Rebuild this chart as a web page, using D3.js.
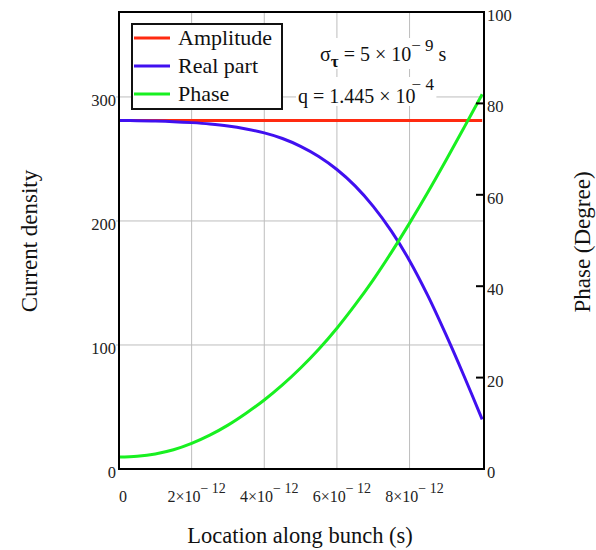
<!DOCTYPE html>
<html><head><meta charset="utf-8">
<script src="https://cdn.jsdelivr.net/npm/d3@7"></script>
<style>body{margin:0;background:#fff}svg{display:block}</style>
</head><body>
<svg id="c" width="596" height="550"></svg>
<script>
// ---- data ----
const locations = [0,0.5e-12,1e-12,1.5e-12,2e-12,2.5e-12,3e-12,3.5e-12,4e-12,4.5e-12,5e-12,5.5e-12,6e-12,6.5e-12,7e-12,7.5e-12,8e-12,8.5e-12,9e-12,9.5e-12,1e-11];
const amplitude = [281,281,281,281,281,281,281,281,281,281,281,281,281,281,281,281,281,281,281,281,281];
const realPart  = [281,280.9,280.6,280.1,279.3,278.2,276.6,274.2,271.0,266.5,260.2,252.0,241.5,228.3,211.8,191.8,168.0,140.0,108.5,75.0,40.0];
const phaseDeg  = [2.6,2.8,3.3,4.2,5.6,7.4,9.6,12.2,15.1,18.4,22.1,26.2,30.8,35.9,41.4,47.4,53.8,60.5,67.5,74.7,82.0];
const xTicks = [2e-12,4e-12,6e-12,8e-12];
const xTickMantissa = ["2","4","6","8"];
const xTickExponent = "\u2212 12";
const leftTicks = [0,100,200,300];
const rightTicks = [0,20,40,60,80,100];
const seriesNames = ["Amplitude","Real part","Phase"];
const seriesColors = ["#ff2a10","#4010f0","#18f020"];

const FONT = "'Liberation Serif','Times New Roman',serif";
const svg = d3.select("#c").style("font-family", FONT);
const L = 119, R = 484, T = 12, B = 469;

const x = d3.scaleLinear().domain([0, 1.005e-11]).range([L, R]);
const yL = d3.scaleLinear().domain([0, 368.5]).range([B, T]);
const yR = d3.scaleLinear().domain([0, 100]).range([B, T]);

// gridlines
const grid = svg.append("g").attr("stroke", "#bdbdbd").attr("stroke-width", 1);
grid.selectAll("line.v").data(xTicks).join("line")
  .attr("x1", d => x(d)).attr("x2", d => x(d)).attr("y1", T).attr("y2", B);
grid.selectAll("line.h").data(leftTicks.filter(d => d > 0)).join("line")
  .attr("x1", L - 3).attr("x2", R).attr("y1", d => yL(d)).attr("y2", d => yL(d));

// annotations with white backgrounds
function annot(xp, yp, parts) {
  const g = svg.append("g");
  const t = g.append("text").attr("x", xp).attr("y", yp).attr("font-size", 20).attr("fill", "#111");
  parts.forEach(p => {
    const ts = t.append("tspan").text(p.t);
    if (p.fs) ts.attr("font-size", p.fs);
    if (p.dy) ts.attr("dy", p.dy);
    if (p.dx) ts.attr("dx", p.dx);
    if (p.fw) ts.attr("font-weight", p.fw);
  });
  const bb = t.node().getBBox();
  g.insert("rect", "text").attr("x", bb.x - 2).attr("y", bb.y + 2).attr("width", bb.width + 4)
    .attr("height", bb.height - 4).attr("fill", "#fff");
}
annot(320, 61, [
  {t: "\u03c3"}, {t: "\u03c4", fs: 17, dy: 6, fw: "bold"}, {t: " = 5 \u00d7 10", dy: -6},
  {t: "\u2212 9", fs: 17, dy: -10}, {t: " s", dy: 10}
]);
annot(298, 103, [
  {t: "q = 1.445 \u00d7 10"}, {t: "\u2212 4", fs: 17, dy: -13, dx: -4}
]);

// series
const mk = (ys) => (vals) => d3.line().curve(d3.curveCatmullRom.alpha(0.5))
  .x((d, i) => x(locations[i])).y(d => ys(d))(vals);
const lineL = mk(yL), lineR = mk(yR);
const curves = svg.append("g").attr("fill", "none").attr("stroke-width", 3);
curves.append("path").attr("d", lineL(amplitude)).attr("stroke", seriesColors[0]);
curves.append("path").attr("d", lineL(realPart)).attr("stroke", seriesColors[1]);
curves.append("path").attr("d", lineR(phaseDeg)).attr("stroke", seriesColors[2]);

// frame
svg.append("rect").attr("x", L).attr("y", T).attr("width", R - L).attr("height", B - T)
  .attr("fill", "none").attr("stroke", "#000").attr("stroke-width", 2);

// right axis ticks (inward)
svg.append("g").selectAll("line").data(rightTicks.filter(d => d > 0 && d < 100)).join("line")
  .attr("x1", R - 8).attr("x2", R).attr("y1", d => yR(d)).attr("y2", d => yR(d))
  .attr("stroke", "#000").attr("stroke-width", 2);

// tick labels
svg.append("g").selectAll("text").data(leftTicks).join("text")
  .attr("x", 116).attr("y", d => yL(d) + 9).attr("text-anchor", "end")
  .attr("font-size", 16.5).attr("fill", "#222").text(d => d);
svg.append("g").selectAll("text").data(rightTicks).join("text")
  .attr("x", 487).attr("y", d => yR(d) + 9)
  .attr("font-size", 16.5).attr("fill", "#222").text(d => d);

const xl = svg.append("g").attr("fill", "#222");
xl.append("text").attr("x", x(0) + 4).attr("y", 502).attr("text-anchor", "middle")
  .attr("font-size", 16).text("0");
xTicks.forEach((v, i) => {
  const t = xl.append("text").attr("x", x(v) + 5).attr("y", 502).attr("text-anchor", "middle")
    .attr("font-size", 16);
  t.append("tspan").text(xTickMantissa[i] + "\u00d710");
  t.append("tspan").attr("font-size", 14).attr("dy", -9).text(xTickExponent);
});

// axis titles
svg.append("text").attr("transform", "translate(37,241) rotate(-90)").attr("text-anchor", "middle")
  .attr("font-size", 23).attr("fill", "#111").text("Current density");
svg.append("text").attr("transform", "translate(590,242) rotate(-90)").attr("text-anchor", "middle")
  .attr("font-size", 23).attr("fill", "#111").text("Phase (Degree)");
svg.append("text").attr("x", 300).attr("y", 543).attr("text-anchor", "middle")
  .attr("font-size", 22.5).attr("fill", "#111").text("Location along bunch (s)");

// legend
const lg = svg.append("g");
lg.append("rect").attr("x", 132).attr("y", 24).attr("width", 150).attr("height", 85)
  .attr("fill", "#fff").attr("stroke", "#111").attr("stroke-width", 2);
seriesNames.forEach((n, i) => {
  const yy = 38 + i * 28;
  lg.append("line").attr("x1", 134).attr("x2", 170).attr("y1", yy).attr("y2", yy)
    .attr("stroke", seriesColors[i]).attr("stroke-width", 3);
  lg.append("text").attr("x", 178).attr("y", yy + 7).attr("font-size", 22).attr("fill", "#111").text(n);
});
</script>
</body></html>
